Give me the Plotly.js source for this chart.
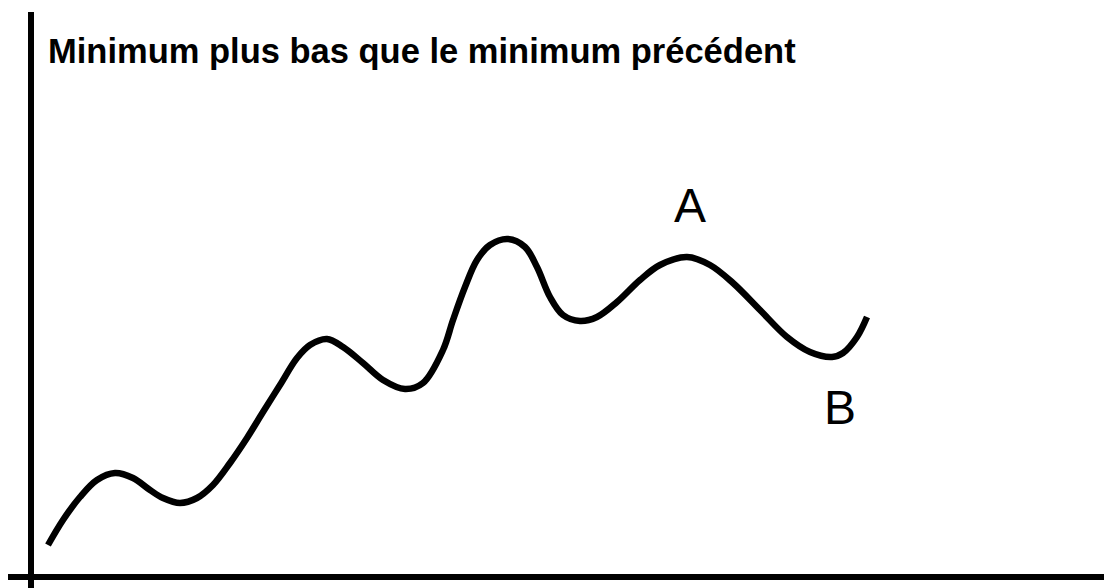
<!DOCTYPE html>
<html>
<head>
<meta charset="utf-8">
<script src="https://cdn.plot.ly/plotly-3.0.1.min.js"></script>
<style>html,body{margin:0;padding:0;background:#fff;}#chart{width:1104px;height:588px;}</style>
</head>
<body>
<div id="chart"></div>
<script>
// Price path (arbitrary units: x = time, y = price)
const timeValues = [17, 32, 49, 66, 84, 102, 119, 132, 149, 166, 182, 199, 216, 232, 249, 266, 279, 296, 312, 332, 352, 374, 392, 412, 422, 434, 446, 459, 477, 494, 506, 519, 532, 549, 566, 586, 609, 629, 656, 679, 702, 729, 756, 779, 801, 812, 826, 836];
const priceValues = [32, 57, 80, 97, 104, 99, 87, 79, 74, 79, 92, 114, 139, 165, 192, 219, 232, 238, 230, 214, 197, 188, 194, 227, 257, 290, 317, 332, 338, 330, 310, 280, 262, 256, 260, 275, 297, 312, 320, 312, 294, 267, 240, 225, 220, 224, 240, 260];

// Point labels
const labelTexts = ["A", "B"];
const labelTimes = [659, 809];
const labelPrices = [372, 170];

const titleText = "Minimum plus bas que le minimum précédent";

const FONT = "Liberation Sans, Arial, Helvetica, sans-serif";

const trace = {
  x: timeValues,
  y: priceValues,
  type: "scatter",
  mode: "lines",
  line: {color: "#000", width: 6.5, shape: "spline", smoothing: 1, simplify: false},
  hoverinfo: "skip"
};

const annotations = labelTexts.map((t, i) => ({
  x: labelTimes[i], y: labelPrices[i], xref: "x", yref: "y",
  text: t, showarrow: false, xanchor: "center", yanchor: "middle",
  font: {family: FONT, size: 48, color: "#000"}
}));

const layout = {
  width: 1104, height: 588,
  margin: {l: 0, r: 0, t: 0, b: 0, pad: 0},
  paper_bgcolor: "#fff", plot_bgcolor: "#fff",
  showlegend: false,
  title: {
    text: "<b>" + titleText + "</b>",
    font: {family: FONT, size: 34.5, color: "#000"},
    xref: "container", yref: "container",
    x: 48 / 1104, xanchor: "left",
    y: 1 - 51 / 588, yanchor: "middle"
  },
  xaxis: {range: [-31, 1073], visible: false, fixedrange: true},
  yaxis: {range: [-11, 577], visible: false, fixedrange: true},
  annotations: annotations,
  shapes: [
    {type: "line", xref: "x", yref: "y", x0: 0, x1: 0, y0: -11, y1: 565,
     line: {color: "#000", width: 6}},
    {type: "line", xref: "x", yref: "y", x0: -23, x1: 1073, y0: 0, y1: 0,
     line: {color: "#000", width: 6}}
  ]
};

Plotly.newPlot("chart", [trace], layout, {staticPlot: true, displayModeBar: false});
</script>
</body>
</html>
